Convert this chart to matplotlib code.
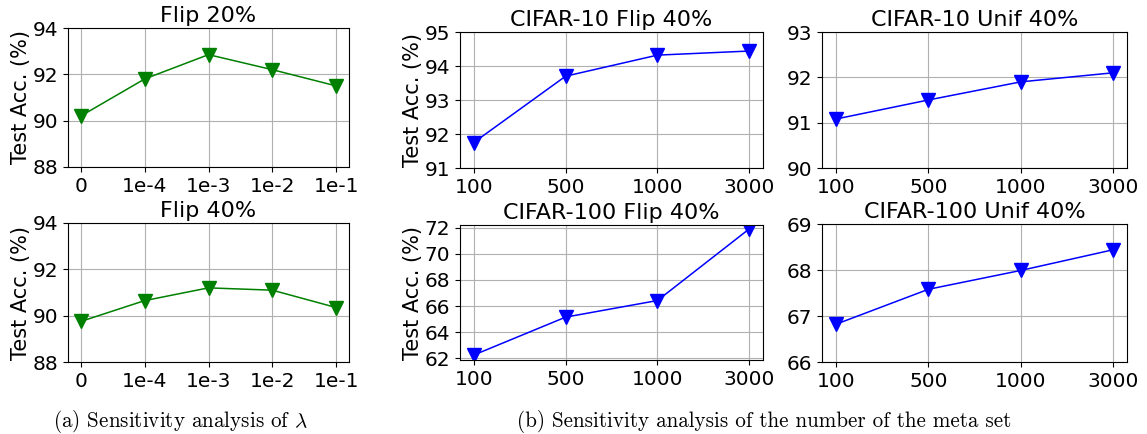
import matplotlib
matplotlib.use("Agg")
import matplotlib.pyplot as plt

plt.rcParams["font.size"] = 15
plt.rcParams["mathtext.fontset"] = "cm"

lam_labels = ["0", "1e-4", "1e-3", "1e-2", "1e-1"]
flip20 = [90.2, 91.8, 92.85, 92.2, 91.5]
flip40 = [89.75, 90.65, 91.2, 91.1, 90.35]

meta_labels = ["100", "500", "1000", "3000"]
c10_flip = [91.75, 93.7, 94.32, 94.44]
c10_unif = [91.08, 91.5, 91.9, 92.1]
c100_flip = [62.25, 65.15, 66.42, 71.9]
c100_unif = [66.82, 67.58, 67.99, 68.44]

W, H = 1147, 434
fig = plt.figure(figsize=(W / 100, H / 100), dpi=100)


def box(l, r, t, b):
    return [l / W, 1 - b / H, (r - l) / W, (b - t) / H]


def panel(rect, labels, vals, color, title, ylim, yticks, ylabel=True):
    ax = fig.add_axes(rect)
    xs = list(range(len(labels)))
    ax.plot(xs, vals, color=color, marker="v", markersize=9.5, linewidth=1.1)
    ax.set_xticks(xs)
    ax.set_xticklabels(labels)
    ax.set_ylim(*ylim)
    ax.set_yticks(yticks)
    ax.tick_params(labelsize=14.5)
    ax.set_title(title, fontsize=16, pad=4)
    if ylabel:
        ax.set_ylabel("Test Acc. (%)", fontsize=15, labelpad=1)
    ax.grid(True, linewidth=0.8)
    return ax


panel(box(68, 349, 28, 167), lam_labels, flip20, "g", "Flip 20%", (88, 94), [88, 90, 92, 94])
panel(box(68, 349, 223, 362), lam_labels, flip40, "g", "Flip 40%", (88, 94), [88, 90, 92, 94])

panel(box(460, 763, 32, 168), meta_labels, c10_flip, "b", "CIFAR-10 Flip 40%", (91, 95), [91, 92, 93, 94, 95])
panel(box(460, 763, 225, 360), meta_labels, c100_flip, "b", "CIFAR-100 Flip 40%", (61.87, 72.2), [62, 64, 66, 68, 70, 72])
panel(box(822, 1127, 32, 168), meta_labels, c10_unif, "b", "CIFAR-10 Unif 40%", (90, 93), [90, 91, 92, 93], ylabel=False)
panel(box(822, 1127, 224, 362), meta_labels, c100_unif, "b", "CIFAR-100 Unif 40%", (66, 69), [66, 67, 68, 69], ylabel=False)

fig.text(53 / W, 1 - 427 / H, r"(a) Sensitivity analysis of $\lambda$", family="cmr10",
         fontsize=15.2, va="baseline", ha="left")
fig.text(517 / W, 1 - 427 / H, "(b) Sensitivity analysis of the number of the meta set", family="cmr10",
         fontsize=15.2, va="baseline", ha="left")

fig.savefig("out.png", dpi=100)
